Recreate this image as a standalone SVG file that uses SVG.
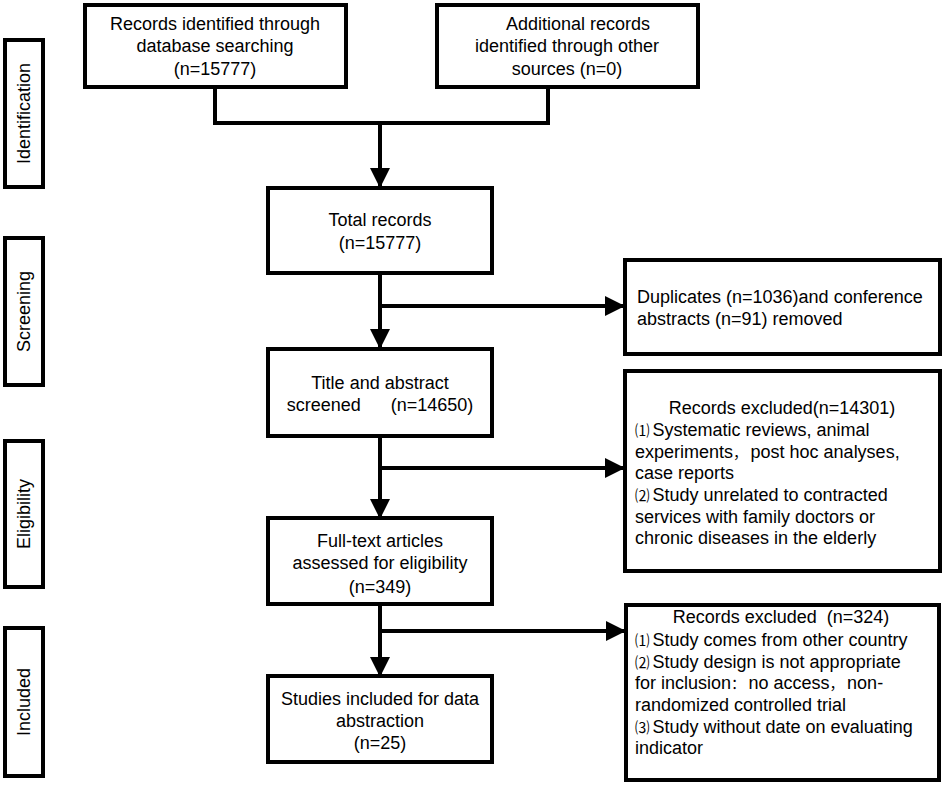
<svg xmlns="http://www.w3.org/2000/svg" width="944" height="785" viewBox="0 0 944 785">
<style>
.box{fill:#fff;stroke:#000;stroke-width:4}
.lbl{fill:#fff;stroke:#000;stroke-width:4}
.t{font-family:"Liberation Sans",Arial,"Noto Sans CJK SC",sans-serif;font-size:18px;fill:#000}
.m{text-anchor:middle}
.c{font-family:"Noto Sans CJK SC","Noto Sans CJK JP",sans-serif;font-size:14.5px;letter-spacing:3px}
.ln{fill:none;stroke:#000;stroke-width:4}
</style>
<defs>
<marker id="ah" markerUnits="userSpaceOnUse" markerWidth="20" markerHeight="20" refX="19" refY="10" orient="auto">
<path d="M0,0 L20,10 L0,20 Z" fill="#000"/>
</marker>
</defs>
<rect width="944" height="785" fill="#fff"/>

<g id="stage-identification">
<rect class="lbl" x="5" y="40" width="38" height="147"/>
<text class="t m" transform="translate(30,113.5) rotate(-90)">Identification</text>
</g>
<g id="stage-screening">
<rect class="lbl" x="5" y="238" width="38" height="147"/>
<text class="t m" transform="translate(30,311.5) rotate(-90)">Screening</text>
</g>
<g id="stage-eligibility">
<rect class="lbl" x="5" y="441" width="38" height="146"/>
<text class="t m" transform="translate(30,514) rotate(-90)">Eligibility</text>
</g>
<g id="stage-included">
<rect class="lbl" x="5" y="628" width="38" height="148"/>
<text class="t m" transform="translate(30,702) rotate(-90)">Included</text>
</g>

<g id="connectors">
<polyline class="ln" points="215,87 215,123 548,123 548,87"/>
<line class="ln" x1="380" y1="125" x2="380" y2="187" marker-end="url(#ah)"/>
<line class="ln" x1="380" y1="273" x2="380" y2="348" marker-end="url(#ah)"/>
<line class="ln" x1="380" y1="306" x2="624" y2="306" marker-end="url(#ah)"/>
<line class="ln" x1="380" y1="436" x2="380" y2="518" marker-end="url(#ah)"/>
<line class="ln" x1="380" y1="468" x2="624" y2="468" marker-end="url(#ah)"/>
<line class="ln" x1="380" y1="604" x2="380" y2="676" marker-end="url(#ah)"/>
<line class="ln" x1="380" y1="631" x2="625" y2="631" marker-end="url(#ah)"/>
</g>

<g id="db-records">
<rect class="box" x="85" y="5" width="261" height="82"/>
<text class="t m" x="215" y="30">Records identified through</text>
<text class="t m" x="215" y="52">database searching</text>
<text class="t m" x="215" y="75">(n=15777)</text>
</g>
<g id="other-records">
<rect class="box" x="437" y="5" width="261" height="82"/>
<text class="t m" x="578" y="30">Additional records</text>
<text class="t m" x="567" y="52">identified through other</text>
<text class="t m" x="567" y="75">sources (n=0)</text>
</g>
<g id="total-records">
<rect class="box" x="268" y="188" width="224" height="85"/>
<text class="t m" x="380" y="226">Total records</text>
<text class="t m" x="380" y="249">(n=15777)</text>
</g>
<g id="duplicates">
<rect class="box" x="625" y="260" width="315" height="94"/>
<text class="t" x="637" y="303">Duplicates (n=1036)and conference</text>
<text class="t" x="637" y="325">abstracts (n=91) removed</text>
</g>
<g id="title-abstract">
<rect class="box" x="268" y="349" width="224" height="87"/>
<text class="t m" x="380" y="389">Title and abstract</text>
<text class="t m" x="380" y="411" xml:space="preserve">screened      (n=14650)</text>
</g>
<g id="excluded-1">
<rect class="box" x="625" y="371" width="315" height="200"/>
<text class="t m" x="782" y="414">Records excluded(n=14301)</text>
<text class="t" x="635" y="436"><tspan class="c">⑴</tspan>Systematic reviews, animal</text>
<text class="t" x="635" y="458">experiments<tspan class="c">，</tspan>post hoc analyses,</text>
<text class="t" x="635" y="479">case reports</text>
<text class="t" x="635" y="501"><tspan class="c">⑵</tspan>Study unrelated to contracted</text>
<text class="t" x="635" y="523">services with family doctors or</text>
<text class="t" x="635" y="544">chronic diseases in the elderly</text>
</g>
<g id="full-text">
<rect class="box" x="268" y="518" width="224" height="86"/>
<text class="t m" x="380" y="547">Full-text articles</text>
<text class="t m" x="380" y="569">assessed for eligibility</text>
<text class="t m" x="380" y="593">(n=349)</text>
</g>
<g id="excluded-2">
<rect class="box" x="626" y="605" width="313" height="175"/>
<text class="t m" x="781" y="623" xml:space="preserve">Records excluded  (n=324)</text>
<text class="t" x="635" y="646"><tspan class="c">⑴</tspan>Study comes from other country</text>
<text class="t" x="635" y="668"><tspan class="c">⑵</tspan>Study design is not appropriate</text>
<text class="t" x="635" y="689">for inclusion<tspan class="c">：</tspan>no access<tspan class="c">，</tspan>non-</text>
<text class="t" x="635" y="711">randomized controlled trial</text>
<text class="t" x="635" y="733"><tspan class="c">⑶</tspan>Study without date on evaluating</text>
<text class="t" x="635" y="754">indicator</text>
</g>
<g id="studies-included">
<rect class="box" x="268" y="676" width="224" height="86"/>
<text class="t m" x="380" y="705">Studies included for data</text>
<text class="t m" x="380" y="727">abstraction</text>
<text class="t m" x="380" y="749">(n=25)</text>
</g>
</svg>
